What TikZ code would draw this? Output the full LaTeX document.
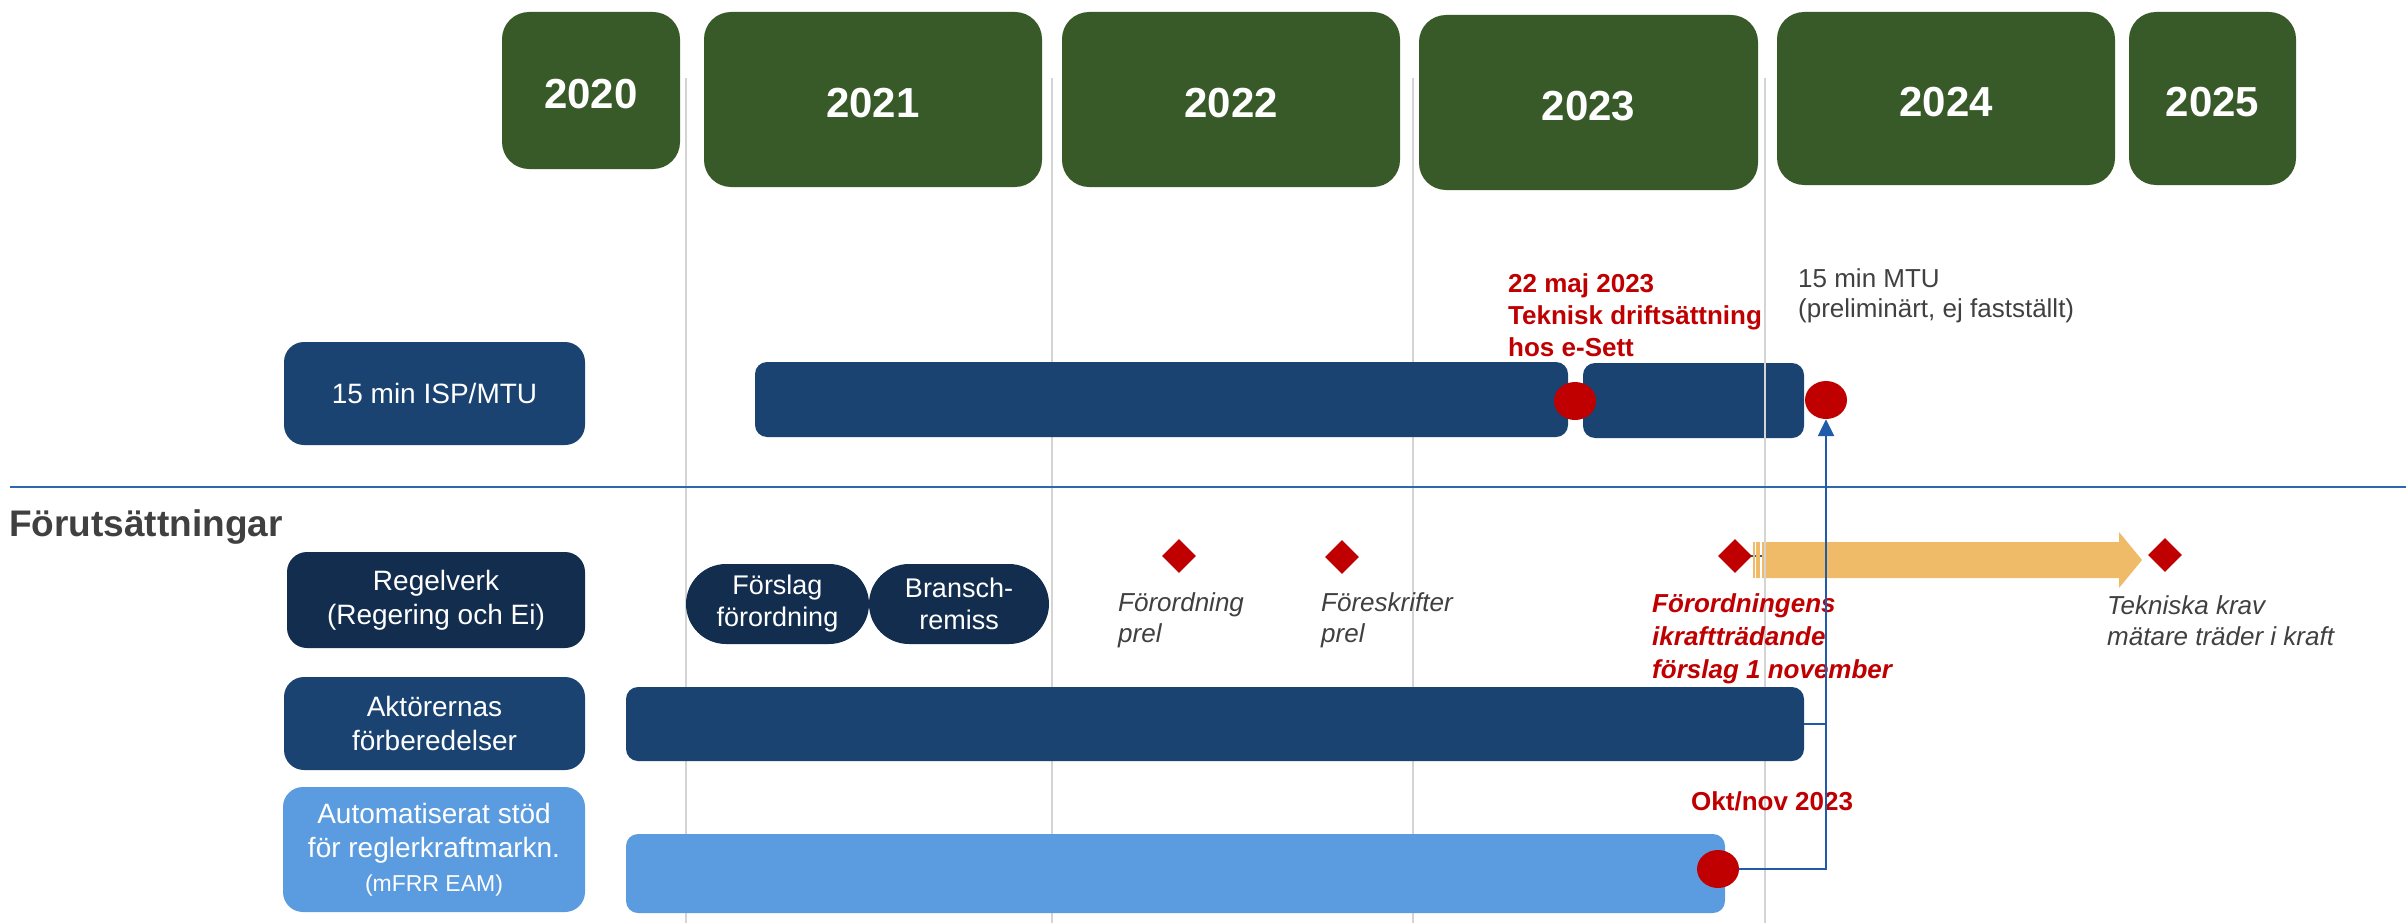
\documentclass[tikz,border=0pt]{standalone}
\usepackage{fontspec}
\setmainfont{Liberation Sans}
\usetikzlibrary{shapes.geometric,arrows.meta}
\definecolor{yrgreen}{RGB}{56,90,40}
\definecolor{navydark}{RGB}{18,45,78}
\definecolor{barblue}{RGB}{26,67,113}
\definecolor{lightblue}{RGB}{91,155,224}
\definecolor{msred}{RGB}{192,0,0}
\definecolor{orangebar}{RGB}{239,187,105}
\definecolor{connblue}{RGB}{31,91,166}
\definecolor{sepblue}{RGB}{46,103,170}
\definecolor{gridgrey}{RGB}{212,212,212}
\definecolor{txtgrey}{RGB}{64,64,64}
\begin{document}
\begin{tikzpicture}[x=1pt,y=-1pt,
  yearbox/.style={fill=yrgreen, rounded corners=27pt, inner sep=0pt, text=white, text height=37pt, text depth=0pt, font=\fontsize{42}{50}\selectfont\bfseries},
  labelbox/.style={rounded corners=20pt, inner sep=0pt, text=white, align=center, font=\fontsize{28}{34}\selectfont},
  bar/.style={rounded corners=12pt, inner sep=0pt},
  pill/.style={fill=navydark, rounded corners=40pt, inner sep=0pt, text=white, align=center, font=\fontsize{27}{32}\selectfont},
  reddot/.style={ellipse, fill=msred, minimum width=42pt, minimum height=38pt, inner sep=0pt},
  redmark/.style={diamond, fill=msred, minimum width=34pt, minimum height=34pt, inner sep=0pt},
  gridline/.style={draw=gridgrey, line width=2pt},
  conn/.style={draw=connblue, line width=2.5pt},
  redlbl/.style={text=msred, inner sep=0pt, align=left, font=\fontsize{26}{32}\selectfont\bfseries},
  greylbl/.style={text=txtgrey, inner sep=0pt, align=left, font=\fontsize{26}{30}\selectfont},
  greyit/.style={text=txtgrey, inner sep=0pt, align=left, font=\fontsize{26}{31}\selectfont\itshape},
  redit/.style={text=msred, inner sep=0pt, align=left, font=\fontsize{26}{33}\selectfont\bfseries\itshape}
]
\useasboundingbox (0,0) rectangle (2406,923);

% bars drawn under grid lines
\node[bar, fill=barblue, minimum width=221pt, minimum height=75pt] (bar2) at (1693.5,400.5) {};
\fill[connblue] (1735,555) rectangle (1762,557);
\fill[orangebar] (1762,542) -- (2119,542) -- (2119,532) -- (2142,560) -- (2119,588) -- (2119,578) -- (1762,578) -- cycle;
\fill[orangebar] (1753,542) rectangle (1755,578);
\fill[orangebar] (1756,542) rectangle (1760,578);

% grid lines
\foreach \gx in {686,1052,1413,1765} {
  \draw[gridline] (\gx,78) -- (\gx,923);
}

% year boxes
\node[yearbox, minimum width=178pt, minimum height=157pt] (y2020) at (591,90.5) {2020};
\node[yearbox, minimum width=338pt, minimum height=175pt] (y2021) at (873,99.5) {2021};
\node[yearbox, minimum width=338pt, minimum height=175pt] (y2022) at (1231,99.5) {2022};
\node[yearbox, minimum width=339pt, minimum height=175pt] (y2023) at (1588.5,102.5) {2023};
\node[yearbox, minimum width=338pt, minimum height=173pt] (y2024) at (1946,98.5) {2024};
\node[yearbox, minimum width=167pt, minimum height=173pt] (y2025) at (2212.5,98.5) {2025};

% separator
\coordinate (sepL) at (10,487);
\coordinate (sepR) at (2406,487);
\draw[draw=sepblue, line width=2.5pt] (sepL) -- (sepR);

\node[text=txtgrey, inner sep=0pt, anchor=base west, font=\fontsize{37}{43}\selectfont\bfseries] (forut) at (9,536) {Förutsättningar};

% left labels
\node[labelbox, fill=barblue, minimum width=301pt, minimum height=103pt] (isp) at (434.5,393.5) {15 min ISP/MTU};
\node[labelbox, fill=navydark, minimum width=298pt, minimum height=96pt] (regel) at (436,600) {Regelverk\\(Regering och Ei)};
\node[labelbox, fill=barblue, minimum width=301pt, minimum height=93pt] (akt) at (434.5,723.5) {Aktörernas\\förberedelser};
\node[labelbox, fill=lightblue, minimum width=302pt, minimum height=125pt] (auto) at (434,849.5) {Automatiserat stöd\\för reglerkraftmarkn.\\{\fontsize{23}{28}\selectfont (mFRR EAM)}};

% bars
\node[bar, fill=barblue, minimum width=813pt, minimum height=75pt] (bar1) at (1161.5,399.5) {};
\node[bar, fill=barblue, minimum width=1178pt, minimum height=74pt] (aktbar) at (1215,724) {};
\node[bar, fill=lightblue, minimum width=1099pt, minimum height=79pt] (autobar) at (1175.5,873.5) {};

% pills
\node[pill, minimum width=183pt, minimum height=80pt] (p1) at (777.5,604) {Förslag\\förordning};
\node[pill, minimum width=180pt, minimum height=80pt] (p2) at (959,604) {Bransch-\\remiss};

% diamonds
\node[redmark] (dm1) at (1179,556) {};
\node[redmark] (dm2) at (1342,557) {};
\node[redmark] (dm3) at (1735,556) {};
\node[redmark] (dm4) at (2165,555) {};

% dots
\node[reddot] (d1) at (1575,401) {};
\node[reddot] (d2) at (1826,400) {};
\node[reddot] (d3) at (1718,869) {};

% texts
\node[redlbl, anchor=west] (t22) at (1508,315) {22 maj 2023\\Teknisk driftsättning\\hos e-Sett};
\node[greylbl, anchor=west] (tmtu) at (1798,296) {15 min MTU\\(preliminärt, ej fastställt)};
\node[greyit, anchor=west] (tfo) at (1118,620) {Förordning\\prel};
\node[greyit, anchor=west] (tfs) at (1321,620) {Föreskrifter\\prel};
\node[redit, anchor=west] (tikr) at (1652,639) {Förordningens\\ikraftträdande\\förslag 1 november};
\node[greyit, anchor=west] (ttek) at (2107,621) {Tekniska krav\\mätare träder i kraft};
\node[redlbl, anchor=base west] (tokt) at (1691,810) {Okt/nov 2023};

% connectors
\draw[conn] (aktbar.east) -- (aktbar.east -| d2.south);
\draw[conn, -{Triangle[width=16pt,length=17pt]}] (d3.east) -- (d3.east -| d2.south) -- (d2.south);
\end{tikzpicture}
\end{document}
